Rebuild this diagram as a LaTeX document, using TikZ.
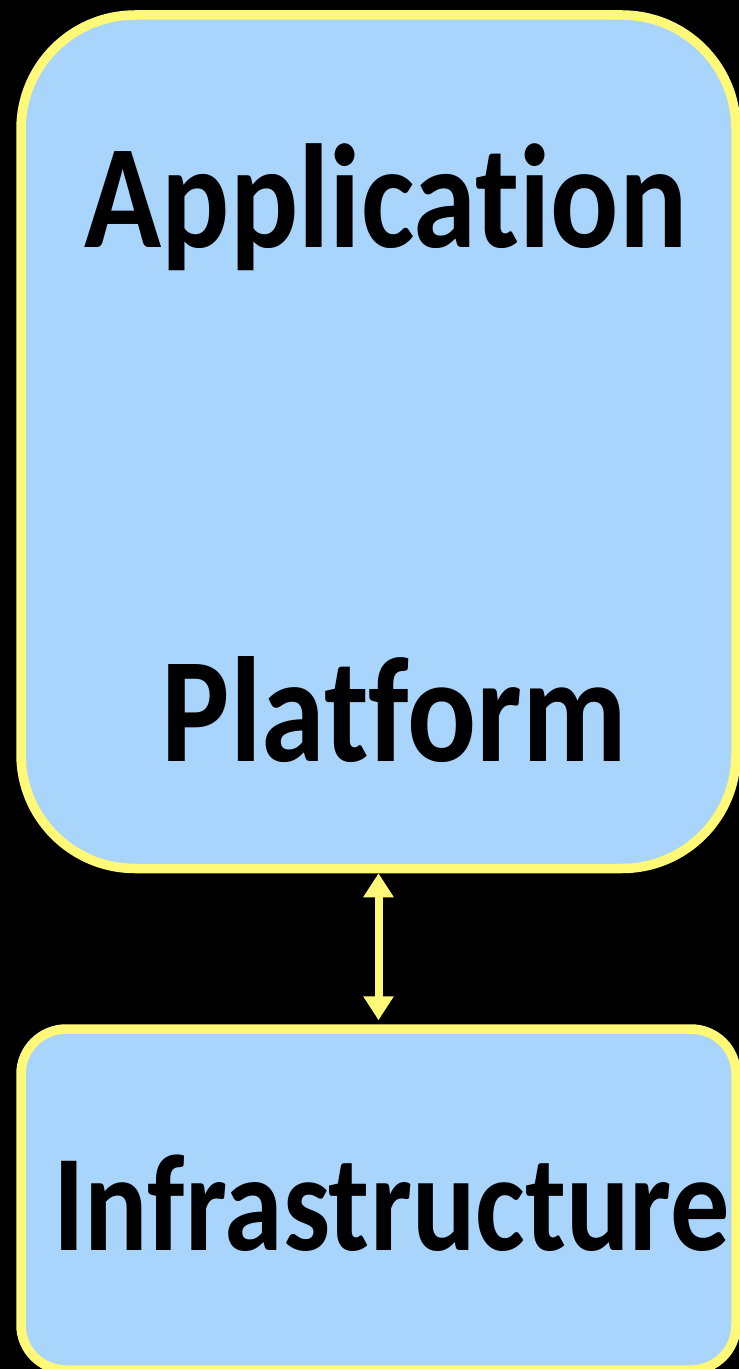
\documentclass[tikz,border=0pt]{standalone}
\usepackage{fontspec}
\setmainfont{Carlito}[FakeStretch=0.86,Ligatures=CommonOff]
\usetikzlibrary{arrows.meta}
\definecolor{skyfill}{HTML}{A9D5FD}
\definecolor{lemon}{HTML}{FFF977}
\begin{document}
\begin{tikzpicture}[x=.5pt,y=-.5pt,
		layer/.style={draw=lemon,fill=skyfill,line width=4.75pt,minimum width=357.5pt},
		word/.style={font=\bfseries\fontsize{#1}{#1}\selectfont,inner sep=0pt,anchor=base},
		link/.style={draw=lemon,line width=4pt,{Triangle[width=14.5pt,length=12pt]}-{Triangle[width=14.5pt,length=12pt]}}]
			\fill[black] (0,0) rectangle (739,1369);
			\useasboundingbox (0,0) rectangle (739,1369);
			\node[layer,rounded corners=57pt,minimum height=426.75pt] (upper) at (378.5,441.75) {};
			\node[layer,rounded corners=22.5pt,minimum height=170.5pt] (lower) at (378.5,1199.5) {};
			\foreach \n/\t/\x/\y/\s in {app/Application/386/248/74,plat/Platform/394.5/761.7/74.8,infra/Infrastructure/391.5/1250.7/68.8}
			\node[word=\s] (\n) at (\x,\y) {\t};
			\draw[link,shorten >=2pt] (upper.south) -- (lower.north);
		\end{tikzpicture}
\end{document}
